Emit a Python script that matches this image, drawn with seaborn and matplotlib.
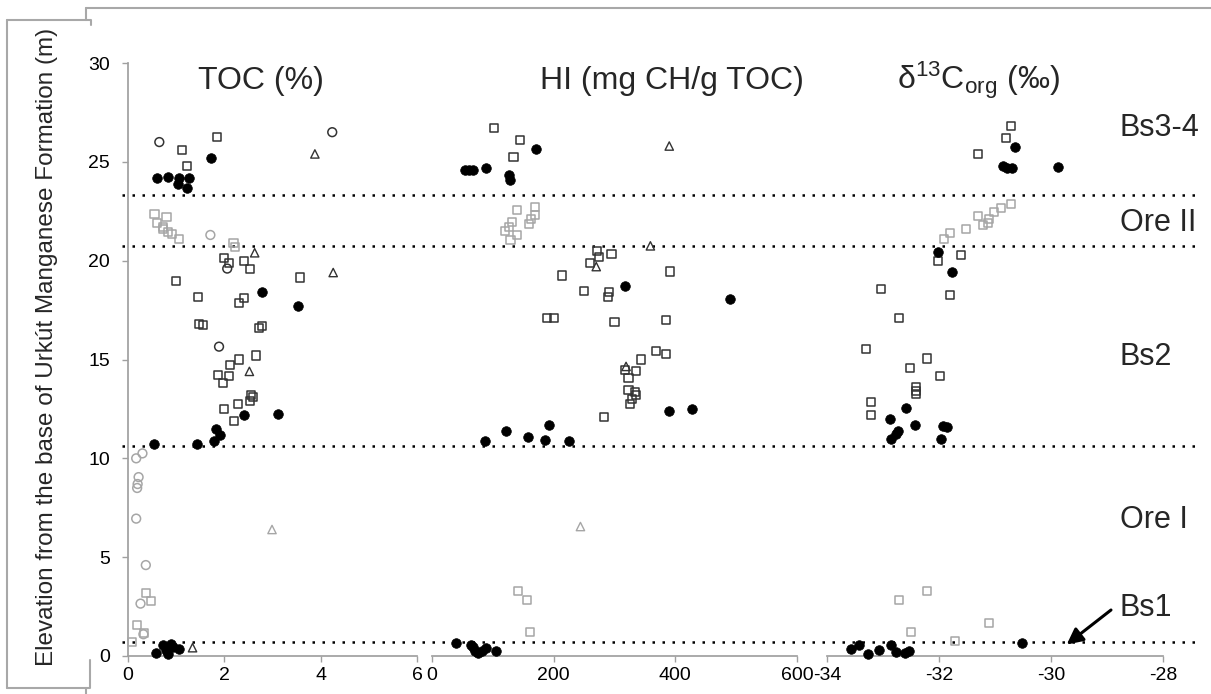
import numpy as np
import pandas as pd
import matplotlib.pyplot as plt
import seaborn as sns
from matplotlib.lines import Line2D

# ── Data ──────────────────────────────────────────────────────────────────────
# kind codes: fc = filled black circle, bs = open black square, gs = open grey square,
#             gc = open grey circle, bc = open black circle, bt = open black triangle,
#             gt = open grey triangle
toc_val = [0.65, 1.13, 1.85, 1.23, 1.72, 0.60, 0.83, 1.05, 1.04, 1.26, 1.23, 3.88, 4.24,
           0.55, 0.80, 0.61, 0.73, 0.72, 0.83, 0.91, 1.06, 1.71, 2.19, 2.22,
           2.63, 4.26, 1.99, 2.10, 2.06, 2.40, 2.53, 0.99, 3.57, 2.79, 3.53, 1.45, 2.40,
           2.31, 1.47, 1.56, 2.72, 2.79, 1.89, 2.65, 2.31, 2.12, 2.52, 1.86, 2.10, 1.97,
           2.55, 2.60, 2.53, 2.29, 2.00, 2.21, 2.40, 3.11, 1.83, 1.90, 1.78, 0.55, 1.44,
           0.17, 0.30, 0.22, 0.20, 0.19, 0.17, 0.37, 0.26, 0.32, 2.99,
           0.375, 0.47, 0.19, 0.34, 0.09,
           0.58, 0.73, 0.79, 0.83, 0.89, 0.94, 1.05, 1.34]
toc_elev = [26.0, 25.6, 26.25, 24.8, 25.2, 24.2, 24.25, 24.2, 23.9, 24.2, 23.7, 25.4, 26.5,
            22.35, 22.2, 21.9, 21.7, 21.6, 21.45, 21.35, 21.1, 21.3, 20.9, 20.7,
            20.4, 19.4, 20.15, 19.9, 19.6, 20.0, 19.6, 18.95, 19.15, 18.4, 17.7, 18.15, 18.1,
            17.85, 16.8, 16.75, 16.6, 16.7, 15.65, 15.2, 15.0, 14.7, 14.4, 14.2, 14.15, 13.8,
            13.2, 13.1, 12.9, 12.75, 12.5, 11.9, 12.2, 12.25, 11.5, 11.2, 10.9, 10.7, 10.75,
            10.0, 10.25, 9.05, 8.7, 8.5, 6.95, 4.6, 2.65, 1.1, 6.4,
            3.2, 2.8, 1.55, 1.15, 0.7,
            0.17, 0.55, 0.3, 0.1, 0.6, 0.47, 0.34, 0.42]
toc_kind = ["bc", "bs", "bs", "bs", "fc", "fc", "fc", "fc", "fc", "fc", "fc", "bt", "bc",
            "gs", "gs", "gs", "gs", "gs", "gs", "gs", "gs", "gc", "gs", "gs",
            "bt", "bt", "bs", "bs", "bc", "bs", "bs", "bs", "bs", "fc", "fc", "bs", "bs",
            "bs", "bs", "bs", "bs", "bs", "bc", "bs", "bs", "bs", "bt", "bs", "bs", "bs",
            "bs", "bs", "bs", "bs", "bs", "bs", "fc", "fc", "fc", "fc", "fc", "fc", "fc",
            "gc", "gc", "gc", "gc", "gc", "gc", "gc", "gc", "gc", "gt",
            "gs", "gs", "gs", "gs", "gs",
            "fc", "fc", "fc", "fc", "fc", "fc", "fc", "bt"]

hi_val = [102, 145, 134, 171, 54, 60, 68, 88, 126, 128, 390,
          139, 169, 170, 163, 160, 132, 126, 120, 139, 129,
          359, 271, 295, 275, 259, 270, 391, 214, 318, 490, 250, 291, 290, 189, 201, 300,
          385, 368, 384, 343, 319, 318, 335, 323, 323, 333, 335, 329, 325, 283,
          390, 428, 192, 122, 157, 186, 87, 225,
          244, 141, 156, 161,
          40, 64, 68, 70, 76, 82, 88, 105]
hi_elev = [26.7, 26.1, 25.25, 25.65, 24.6, 24.6, 24.6, 24.7, 24.35, 24.1, 25.8,
           22.55, 22.7, 22.3, 22.1, 21.85, 21.95, 21.7, 21.5, 21.3, 21.05,
           20.75, 20.5, 20.35, 20.2, 19.9, 19.7, 19.45, 19.25, 18.7, 18.05, 18.45, 18.4, 18.15,
           17.1, 17.1, 16.9, 17.0, 15.45, 15.3, 15.0, 14.65, 14.45, 14.4, 14.05, 13.45, 13.35,
           13.2, 13.0, 12.75, 12.1,
           12.4, 12.5, 11.7, 11.4, 11.1, 10.95, 10.9, 10.9,
           6.55, 3.3, 2.85, 1.2,
           0.65, 0.57, 0.44, 0.25, 0.13, 0.27, 0.39, 0.25]
hi_kind = ["bs", "bs", "bs", "fc", "fc", "fc", "fc", "fc", "fc", "fc", "bt",
           "gs", "gs", "gs", "gs", "gs", "gs", "gs", "gs", "gs", "gs",
           "bt", "bs", "bs", "bs", "bs", "bt", "bs", "bs", "fc", "fc", "bs", "bs", "bs",
           "bs", "bs", "bs", "bs", "bs", "bs", "bs", "bt", "bs", "bs", "bs", "bs", "bs",
           "bs", "bs", "bs", "bs",
           "fc", "fc", "fc", "fc", "fc", "fc", "fc", "fc",
           "gt", "gs", "gs", "gs",
           "fc", "fc", "fc", "fc", "fc", "fc", "fc", "fc"]

d13c_val = [-30.71, -30.80, -31.30, -30.64, -30.86, -30.79, -30.70, -29.87,
            -30.71, -30.90, -31.02, -31.30, -31.11, -31.12, -31.22, -31.51, -31.80, -31.91,
            -32.01, -32.01, -31.61, -31.77, -33.04, -31.80, -32.71, -33.31, -32.21, -32.51,
            -31.99, -32.41, -32.41, -32.41, -33.21, -33.21,
            -32.59, -32.88, -32.42, -32.73, -32.77, -32.85, -31.93, -31.86, -31.97,
            -32.21, -32.71, -32.50, -31.10, -31.71,
            -33.57, -33.42, -33.27, -33.07, -32.86, -32.77, -32.60, -32.54, -30.52]
d13c_elev = [26.8, 26.2, 25.4, 25.75, 24.8, 24.7, 24.7, 24.75,
             22.85, 22.65, 22.45, 22.25, 22.1, 21.9, 21.8, 21.6, 21.4, 21.1,
             20.45, 20.0, 20.3, 19.45, 18.55, 18.25, 17.1, 15.55, 15.05, 14.55,
             14.15, 13.6, 13.4, 13.25, 12.85, 12.2,
             12.55, 12.0, 11.7, 11.4, 11.25, 11.0, 11.65, 11.6, 11.0,
             3.3, 2.85, 1.2, 1.65, 0.75,
             0.35, 0.54, 0.12, 0.3, 0.57, 0.2, 0.13, 0.27, 0.67]
d13c_kind = ["bs", "bs", "bs", "fc", "fc", "fc", "fc", "fc",
             "gs", "gs", "gs", "gs", "gs", "gs", "gs", "gs", "gs", "gs",
             "fc", "bs", "bs", "fc", "bs", "bs", "bs", "bs", "bs", "bs",
             "bs", "bs", "bs", "bs", "bs", "bs",
             "fc", "fc", "fc", "fc", "fc", "fc", "fc", "fc", "fc",
             "gs", "gs", "gs", "gs", "gs",
             "fc", "fc", "fc", "fc", "fc", "fc", "fc", "fc", "fc"]

boundaries = [0.7, 10.6, 20.75, 23.3]
units = ["Bs3-4", "Ore II", "Bs2", "Ore I", "Bs1"]
unit_y_px = [128, 223, 357, 520, 608]

panel_titles = ["TOC (%)", "HI (mg CH/g TOC)", "δ$^{13}$C$_{\\mathrm{org}}$ (‰)"]
panel_xlims = [(0, 6), (0, 600), (-34, -28)]
panel_xticks = [[0, 2, 4, 6], [0, 200, 400, 600], [-34, -32, -30, -28]]

# ── Styling ───────────────────────────────────────────────────────────────────
sns.set_theme(style="ticks")
plt.rcParams["font.family"] = ["Liberation Sans", "DejaVu Sans"]
plt.rcParams["mathtext.fontset"] = "custom"
plt.rcParams["mathtext.rm"] = "Liberation Sans"
plt.rcParams["mathtext.it"] = "Liberation Sans:italic"
plt.rcParams["axes.unicode_minus"] = False

GREY = "#a6a6a6"
DARK = "#333333"
SPINE = "#a0a0a0"
STYLES = {
    "fc": dict(marker="o", s=48, color="black", edgecolor="black", linewidth=0.5),
    "bs": dict(marker="s", s=34, color=DARK, edgecolor=DARK, facecolor="none", linewidth=1.1),
    "gs": dict(marker="s", s=34, color=GREY, edgecolor=GREY, facecolor="none", linewidth=1.1),
    "gc": dict(marker="o", s=40, color=GREY, edgecolor=GREY, facecolor="none", linewidth=1.1),
    "bc": dict(marker="o", s=40, color=DARK, edgecolor=DARK, facecolor="none", linewidth=1.1),
    "bt": dict(marker="^", s=36, color=DARK, edgecolor=DARK, facecolor="none", linewidth=1.0),
    "gt": dict(marker="^", s=36, color=GREY, edgecolor=GREY, facecolor="none", linewidth=1.0),
}

W, H = 1211, 694
fig = plt.figure(figsize=(W / 100, H / 100), dpi=100)

# overlay for the dotted unit boundaries (spans all three panels)
y0_px, y1_px = 656, 63
ov = fig.add_axes([122 / W, 1 - y0_px / H, (1198 - 122) / W, (y0_px - y1_px) / H], zorder=0)
ov.set_ylim(0, 30)
ov.set_xlim(0, 1)
ov.axis("off")
for b in boundaries:
    ov.axhline(b, color="black", lw=1.8, linestyle=(0, (1, 3.0)))

panel_px = [(128, 417), (432, 797), (827, 1163)]
frames = [
    pd.DataFrame({"val": toc_val, "elev": toc_elev, "kind": toc_kind}),
    pd.DataFrame({"val": hi_val, "elev": hi_elev, "kind": hi_kind}),
    pd.DataFrame({"val": d13c_val, "elev": d13c_elev, "kind": d13c_kind}),
]
title_cx = [261, 672, 978]

axes = []
for i, (df, (l, r)) in enumerate(zip(frames, panel_px)):
    ax = fig.add_axes([l / W, 1 - y0_px / H, (r - l) / W, (y0_px - y1_px) / H], zorder=1)
    ax.patch.set_alpha(0)
    for kind, sub in df.groupby("kind", sort=False):
        sns.scatterplot(data=sub, x="val", y="elev", ax=ax, legend=False,
                        clip_on=False, zorder=3, **STYLES[kind])
    ax.set_xlim(*panel_xlims[i])
    ax.set_ylim(0, 30)
    ax.set_xticks(panel_xticks[i])
    ax.set_xlabel("")
    ax.set_ylabel("")
    for side in ["top", "right"]:
        ax.spines[side].set_visible(False)
    ax.spines["bottom"].set_color(SPINE)
    ax.tick_params(axis="x", colors=SPINE, labelcolor="black", labelsize=14,
                   length=4, width=1, pad=4)
    if i == 0:
        ax.set_yticks([0, 5, 10, 15, 20, 25, 30])
        ax.spines["left"].set_color(SPINE)
        ax.tick_params(axis="y", colors=SPINE, labelcolor="black", labelsize=14,
                       length=4, width=1, pad=9)
    else:
        ax.spines["left"].set_visible(False)
        ax.set_yticks([])
    fig.text(title_cx[i] / W, 1 - 89 / H, panel_titles[i], ha="center",
             va="baseline", fontsize=23)
    axes.append(ax)

# y label
fig.text(47 / W, 1 - 347 / H, "Elevation from the base of Urkút Manganese Formation (m)",
         rotation=90, ha="center", va="center", fontsize=17.5)

# unit labels
for name, ypx in zip(units, unit_y_px):
    fig.text(1120 / W, 1 - ypx / H, name, ha="left", va="center", fontsize=22)

# arrow to Bs1 boundary
axes[2].annotate("", xy=(-29.72, 0.58), xycoords="data",
                 xytext=(1111 / W, 1 - 610 / H), textcoords="figure fraction",
                 arrowprops=dict(arrowstyle="-|>", color="black", lw=2.2,
                                 mutation_scale=24, shrinkA=0, shrinkB=0),
                 annotation_clip=False)

# frame lines around the label area
def fline(xs, ys):
    fig.add_artist(Line2D([x / W for x in xs], [1 - y / H for y in ys],
                          color="#a8a8a8", lw=1.5))

fline([86, 1211], [8, 8])
fline([86, 86], [8, 20])
fline([7, 91, 91], [20, 20, 25])
fline([7, 7], [20, 688])
fline([7, 90, 90], [688, 688, 660])
fline([86, 86], [688, 694])

fig.savefig("out.png", dpi=100)
